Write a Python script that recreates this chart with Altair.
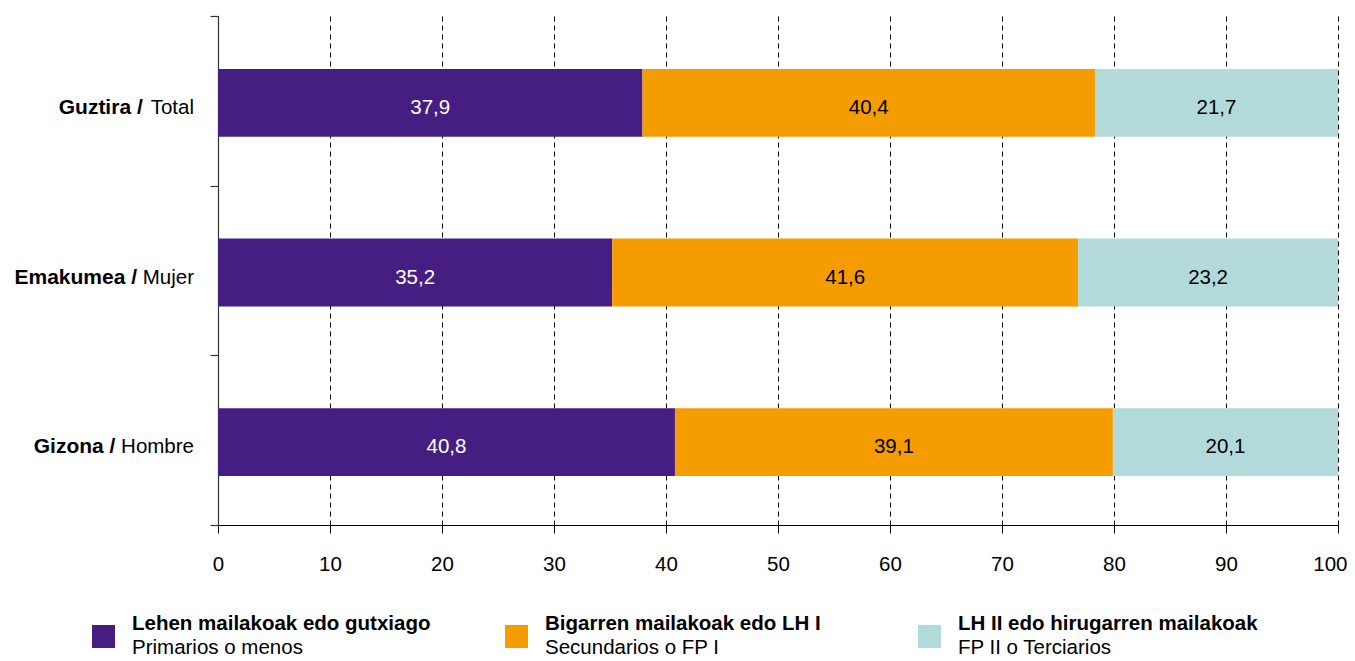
import altair as alt
import pandas as pd

# ---------------- data ----------------
categories_eu = ["Guztira", "Emakumea", "Gizona"]
categories_es = ["Total", "Mujer", "Hombre"]
levels_eu = ["Lehen mailakoak edo gutxiago", "Bigarren mailakoak edo LH I", "LH II edo hirugarren mailakoak"]
levels_es = ["Primarios o menos", "Secundarios o FP I", "FP II o Terciarios"]
primary = [37.9, 35.2, 40.8]
secondary = [40.4, 41.6, 39.1]
tertiary = [21.7, 23.2, 20.1]
x_ticks = [0, 10, 20, 30, 40, 50, 60, 70, 80, 90, 100]
colors = ["#461E82", "#F59C00", "#B3DADB"]

FONT = "Liberation Sans"
FS = 20.5
TEXT_DY = 7

rows = []
for i, cat in enumerate(categories_eu):
    for j, vals in enumerate([primary, secondary, tertiary]):
        rows.append({"cat": cat, "level": levels_eu[j], "lvl": j, "value": vals[i]})
df = pd.DataFrame(rows)

y_enc = alt.Y("cat:N", sort=categories_eu,
              scale=alt.Scale(paddingInner=0, paddingOuter=0),
              axis=alt.Axis(labels=False, title=None, tickBand="extent", ticks=True,
                            tickSize=8, tickColor="#333333", domainColor="#333333",
                            domainWidth=1.2, tickWidth=1.2, grid=False))

x_scale = alt.Scale(domain=[0, 100], nice=False, zero=True)

x_axis = alt.Axis(values=x_ticks, title=None, grid=True, gridDash=[5, 4],
                  gridColor="#000000", gridWidth=1, domainColor="#000000",
                  tickColor="#000000", tickSize=8, labelFontSize=FS,
                  labelFont=FONT, labelColor="#000000", labelPadding=21,
                  labelAlign={"condition": {"test": "datum.value === 100", "value": "right"},
                              "value": "center"},
                  labelOffset={"condition": {"test": "datum.value === 100", "value": 9},
                               "value": 0})

bars = alt.Chart(df).mark_bar(height=alt.RelativeBandSize(0.4), yOffset=2).encode(
    y=y_enc,
    x=alt.X("value:Q", stack="zero", scale=x_scale, axis=x_axis),
    color=alt.Color("level:N", scale=alt.Scale(domain=levels_eu, range=colors), legend=None),
    order=alt.Order("lvl:Q"),
)

bar_text = alt.Chart(df).transform_stack(
    stack="value", groupby=["cat"], as_=["v0", "v1"], sort=[alt.SortField("lvl", order="ascending")]
).transform_calculate(
    mid="(datum.v0 + datum.v1) / 2",
    label="replace(format(datum.value, '.1f'), '.', ',')",
).mark_text(fontSize=FS, font=FONT, baseline="middle", align="center", dy=TEXT_DY).encode(
    y=alt.Y("cat:N", sort=categories_eu),
    x=alt.X("mid:Q", scale=x_scale, title=None),
    text="label:N",
    color=alt.condition(alt.datum.lvl == 0, alt.value("#FFFFFF"), alt.value("#000000")),
)

# ---------------- y labels (bold Basque / regular Spanish) ----------------
W = {"T": 0.611, "o": 0.556, "t": 0.278, "a": 0.556, "l": 0.222, "M": 0.833, "u": 0.556,
     "j": 0.222, "e": 0.556, "r": 0.333, "H": 0.722, "m": 0.833, "b": 0.556, " ": 0.278}


def text_width(s):
    return sum(W.get(c, 0.556) for c in s) * FS


ylab_df = pd.DataFrame({"cat": categories_eu, "es": categories_es,
                        "eu": [c + " /" for c in categories_eu]})

y_plain = alt.Y("cat:N", sort=categories_eu)
ylab_normal = alt.Chart(ylab_df).mark_text(
    align="right", baseline="middle", fontSize=FS, font=FONT, color="#000000", dy=TEXT_DY
).encode(y=y_plain, x=alt.value(-24), text="es:N")

ylab_bold_layers = []
for i, cat in enumerate(categories_eu):
    dx = -(text_width(categories_es[i]) + text_width(" "))
    ylab_bold_layers.append(
        alt.Chart(ylab_df).transform_filter(alt.datum.cat == cat).mark_text(
            align="right", baseline="middle", fontSize=21, font=FONT,
            fontWeight="bold", color="#000000", dx=dx, dy=TEXT_DY
        ).encode(y=y_plain, x=alt.value(-24), text="eu:N")
    )

main = alt.layer(bars, bar_text, ylab_normal, *ylab_bold_layers)

# ---------------- legend ----------------
leg_df = pd.DataFrame({"level": levels_eu, "es": levels_es})
leg_x = alt.X("level:N", sort=levels_eu,
              scale=alt.Scale(type="point", range=[-114.5, 711.5], padding=0), axis=None)

leg_sq = alt.Chart(leg_df).mark_square(size=529, opacity=1, filled=True).encode(
    x=leg_x, y=alt.value(620.5),
    color=alt.Color("level:N", scale=alt.Scale(domain=levels_eu, range=colors), legend=None),
)
leg_t1 = alt.Chart(leg_df).mark_text(
    align="left", baseline="alphabetic", dx=28.5, fontSize=FS, font=FONT,
    fontWeight="bold", color="#000000"
).encode(x=leg_x, y=alt.value(614), text="level:N")
leg_t2 = alt.Chart(leg_df).mark_text(
    align="left", baseline="alphabetic", dx=28.5, fontSize=FS, font=FONT, color="#000000"
).encode(x=leg_x, y=alt.value(638), text="es:N")

legend = alt.layer(leg_sq, leg_t1, leg_t2)

chart = alt.layer(main, legend).resolve_scale(x="independent").properties(
    width=1120, height=509,
    padding={"left": 210, "top": 8, "right": 9, "bottom": 150},
    autosize=alt.AutoSizeParams(type="none"),
    background="#FFFFFF",
).configure_view(stroke=None)

chart.save("out.html", embed_options={"renderer": "svg", "actions": False})
